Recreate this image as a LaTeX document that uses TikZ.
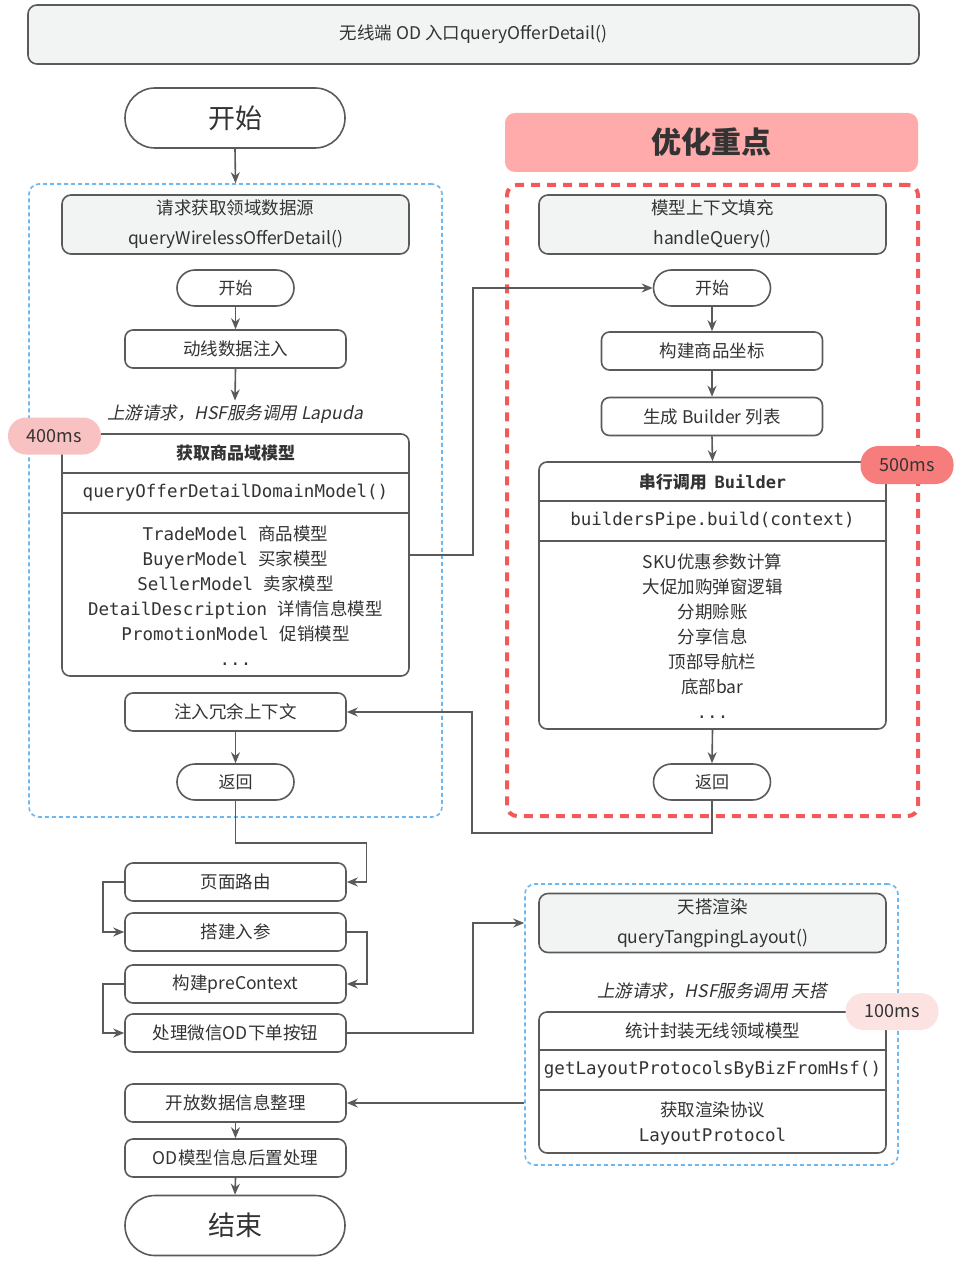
\documentclass[tikz,border=0pt]{standalone}
\usepackage{fontspec}
\setmainfont{Noto Sans CJK SC}
\newfontfamily\mono{DejaVu Sans Mono}
\newfontfamily\slantfont[FakeSlant=0.2]{Noto Sans CJK SC}
\usetikzlibrary{arrows.meta,calc}
\definecolor{ln}{HTML}{5A5A5A}
\definecolor{txt}{HTML}{333333}
\definecolor{gfill}{HTML}{F2F3F3}
\definecolor{bl}{HTML}{6CB8F2}
\definecolor{rd}{HTML}{F05A5A}
\definecolor{cfocus}{HTML}{FFABAB}
\definecolor{b400}{HTML}{F9C2C2}
\definecolor{b500}{HTML}{F77C7C}
\definecolor{b100}{HTML}{FDE2E2}
\newcommand\myfs[2]{\fontsize{#1}{#2}\selectfont}
\begin{document}
\begin{tikzpicture}[x=1pt,y=-1pt,line width=1.6pt,
  every node/.style={text=txt},
  box/.style={draw=ln, fill=white, rounded corners=8pt, minimum height=38pt, minimum width=221pt, inner sep=0pt, font=\myfs{17.5}{20}},
  gbox/.style={draw=ln, fill=gfill, rounded corners=9pt, minimum height=59pt, minimum width=347pt, inner sep=0pt, align=center, font=\myfs{17.5}{30}},
  pill/.style={draw=ln, fill=white, rounded corners=18pt, minimum height=36pt, minimum width=117pt, inner sep=0pt, font=\myfs{17}{20}},
  term/.style={draw=ln, fill=white, rounded corners=30pt, minimum height=60pt, minimum width=220pt, inner sep=0pt, font=\myfs{27}{30}},
  bigbox/.style={draw=ln, fill=white, rounded corners=8pt, minimum width=347pt, inner sep=0pt},
  hdr/.style={font=\myfs{17}{20}\bfseries, inner sep=0pt},
  monot/.style={font=\myfs{17.5}{20}\mono, inner sep=0pt},
  body/.style={font=\myfs{17.5}{25}, align=center, inner sep=0pt},
  lab/.style={font=\myfs{17.5}{20}\slantfont, text=txt},
  badge/.style={rounded corners=18pt, minimum width=93pt, minimum height=37pt, inner sep=0pt, font=\myfs{18}{20}},
  bluebox/.style={draw=bl, line width=1.6pt, dash pattern=on 4pt off 3pt, rounded corners=10pt, inner sep=0pt},
  redbox/.style={draw=rd, line width=4pt, dash pattern=on 9pt off 7pt, rounded corners=10pt, inner sep=0pt},
  arr/.style={draw=ln, -{Stealth[length=11pt,width=9pt]}},
  divl/.style={draw=ln}
]
\fill[white] (0,0) rectangle (960,1268);
\useasboundingbox (0,0) rectangle (960,1268);

% containers
\node[bluebox, minimum width=413pt, minimum height=633pt] (lbox) at (235.5,500.5) {};
\node[redbox, minimum width=411pt, minimum height=631pt] (rbox) at (712.5,500.5) {};
\node[bluebox, minimum width=373pt, minimum height=281pt] (tpbox) at (711.5,1024.5) {};

% top
\node[gbox, minimum width=891pt, font=\myfs{17.5}{20}] (top) at (473.5,34.5) {无线端 OD 入口queryOfferDetail()};
\node[term] (start) at (235,118) {开始};

% left column
\node[gbox] (req) at (235.5,224.5) {请求获取领域数据源\\queryWirelessOfferDetail()};
\node[pill] (s1) at (235.5,288) {开始};
\node[box] (inject) at (235.5,349) {动线数据注入};
\node[lab] (lab1) at (235,414) {上游请求，HSF服务调用 Lapuda};
\node[bigbox, minimum height=242pt] (dm) at (235.5,555) {};
\draw[divl] (62,473) -- (409,473);
\draw[divl] (62,513) -- (409,513);
\node[hdr] (dmh) at (235.5,453) {获取商品域模型};
\node[monot] (dmm) at (235.5,493) {queryOfferDetailDomainModel()};
\node[body] (dmb) at (235.5,596) {{\mono TradeModel }商品模型\\{\mono BuyerModel }买家模型\\{\mono SellerModel }卖家模型\\{\mono DetailDescription }详情信息模型\\{\mono PromotionModel }促销模型\\{\mono ...}};
\node[badge, fill=b400] (b4) at (54.5,436) {400ms};
\node[box] (redun) at (235.5,712) {注入冗余上下文};
\node[pill] (r1) at (235.5,782) {返回};

\node[box] (route) at (235.5,882) {页面路由};
\node[box] (param) at (235.5,932) {搭建入参};
\node[box] (pre) at (235.5,984) {构建preContext};
\node[box] (wx) at (235.5,1033) {处理微信OD下单按钮};
\node[box] (open) at (235.5,1103) {开放数据信息整理};
\node[box] (post) at (235.5,1158) {OD模型信息后置处理};
\node[term] (end) at (235,1225.5) {结束};

% right column
\node[fill=cfocus, rounded corners=10pt, minimum width=413pt, minimum height=59pt, inner sep=0pt, font=\myfs{30}{32}\bfseries] (focus) at (711.5,142.5) {优化重点};
\node[gbox] (ctx) at (712.5,224.5) {模型上下文填充\\handleQuery()};
\node[pill] (s2) at (712,288) {开始};
\node[box] (coord) at (712,351) {构建商品坐标};
\node[box] (blist) at (712,416.5) {生成 Builder 列表};
\node[bigbox, minimum height=267pt] (bb) at (712.5,595.5) {};
\draw[divl] (539,501) -- (886,501);
\draw[divl] (539,541) -- (886,541);
\node[hdr] (bbh) at (712.5,482) {串行调用 \ {\mono\bfseries Builder}};
\node[monot] (bbm) at (712.5,521) {buildersPipe.build(context)};
\node[body] (bbb) at (712.5,636) {SKU优惠参数计算\\大促加购弹窗逻辑\\分期赊账\\分享信息\\顶部导航栏\\底部bar\\{\mono ...}};
\node[badge, fill=b500, minimum height=38pt] (b5) at (907,465) {500ms};
\node[pill] (r2) at (712,782) {返回};

% bottom right
\node[gbox] (tp) at (712.5,923) {天搭渲染\\queryTangpingLayout()};
\node[lab] (lab2) at (712,991) {上游请求，HSF服务调用 天搭};
\node[bigbox, minimum height=141pt] (lp) at (712.5,1082.5) {};
\draw[divl] (539,1050) -- (886,1050);
\draw[divl] (539,1090) -- (886,1090);
\node[font=\myfs{17.5}{20}, inner sep=0pt] (lph) at (712.5,1031) {统计封装无线领域模型};
\node[monot] (lpm) at (712.5,1070) {getLayoutProtocolsByBizFromHsf()};
\node[body] (lpb) at (712.5,1123.5) {获取渲染协议\\{\mono LayoutProtocol}};
\node[badge, fill=b100] (b1) at (892,1011.5) {100ms};

% connectors
\draw[arr] (start.south) -- (lbox.north);
\draw[arr] (s1.south) -- (inject.north);
\draw[arr] (inject.south) -- (lab1.north);
\draw[arr] (redun.south) -- (r1.north);
\draw[arr] (dm.east) -- ++(63,0) |- (s2.west);
\draw[arr] (s2.south) -- (coord.north);
\draw[arr] (coord.south) -- (blist.north);
\draw[arr] (blist.south) -- (bb.north);
\draw[arr] (bb.south) -- (r2.north);
\draw[arr] (r2.south) -- ++(0,32) -- ++(-240,0) |- (redun.east);
\draw[arr] (r1.south) -- ++(0,42) -- ++(131,0) |- (route.east);
\draw[arr] (route.west) -- ++(-21,0) |- (param.west);
\draw[arr] (param.east) -- ++(20,0) |- (pre.east);
\draw[arr] (pre.west) -- ++(-21,0) |- (wx.west);
\draw[arr] (wx.east) -- ++(126,0) |- (tpbox.west |- tp.west);
\draw[arr] (tpbox.west |- open.east) -- (open.east);
\draw[arr] (open.south) -- (post.north);
\draw[arr] (post.south) -- (end.north);
\end{tikzpicture}
\end{document}
